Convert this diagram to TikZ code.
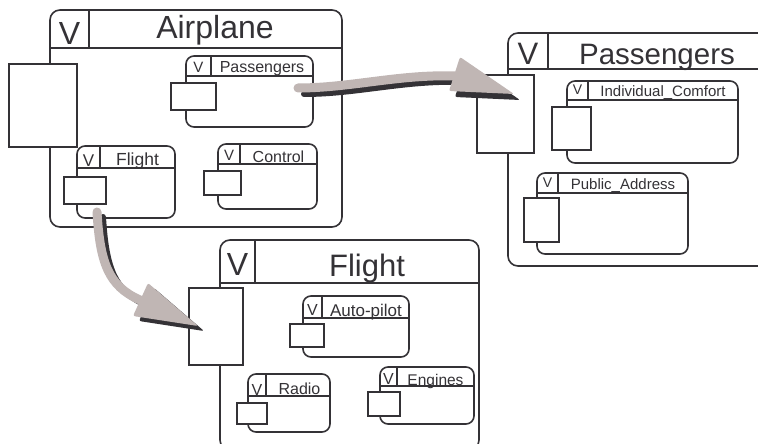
\documentclass[tikz,border=0pt]{standalone}
\usepackage{fontspec}
\setmainfont{Liberation Sans}
\definecolor{ink}{RGB}{52,50,54}
\definecolor{arrowgray}{RGB}{192,182,180}
\newcommand\pkg[8]{%
  \node[pkgbox, rounded corners=#8, minimum width={#4-#2}, minimum height={#5-#3}] (#1) at ({(#2+#4)/2},{(#3+#5)/2}) {};
  \draw[pkgline] (#2,#6) -- (#4,#6);
  \draw[pkgline] (#7,#3) -- (#7,#6);
}
\newcommand\port[5]{%
  \node[portbox, minimum width={#4-#2}, minimum height={#5-#3}] (#1) at ({(#2+#4)/2},{(#3+#5)/2}) {};
}
\newcommand\fs[1]{\fontsize{#1}{#1}\selectfont}
\begin{document}
\begin{tikzpicture}[x=1pt,y=-1pt,
  pkgbox/.style={draw=ink, line width=1.6pt, inner sep=0pt, outer sep=0pt, fill=white},
  pkgline/.style={draw=ink, line width=1.6pt},
  portbox/.style={draw=ink, line width=1.6pt, inner sep=0pt, outer sep=0pt, fill=white},
  lbl/.style={anchor=base, inner sep=0pt, text=ink},
  shadowline/.style={draw=ink, line width=6pt, line cap=round},
  arrowline/.style={draw=arrowgray, line width=9pt, line cap=round},
  shadowhead/.style={fill=ink, rounded corners=2pt},
  arrowhead/.style={fill=arrowgray, rounded corners=2pt}]
\useasboundingbox (0,0) rectangle (758,444);
\clip (0,0) rectangle (758,444);
% Airplane
\pkg{airplane}{50}{10}{342}{227}{48}{89}{10}
\node[lbl, font=\fs{32}] (airplaneV) at (69.5,45) {V};
\node[lbl, font=\fs{32}] (airplaneT) at (215,39) {Airplane};
\pkg{apPass}{186}{56}{313}{127}{76}{211}{8}
\node[lbl, font=\fs{15}] (apPassV) at (198.5,73) {V};
\node[lbl, font=\fs{16}] (apPassT) at (262,73) {Passengers};
\pkg{apFlight}{77}{146}{175}{218}{168}{100}{8}
\node[lbl, font=\fs{17}] (apFlightV) at (88.5,166) {V};
\node[lbl, font=\fs{17.5}] (apFlightT) at (137.5,165) {Flight};
\pkg{apControl}{218}{144}{317}{209}{164}{240}{8}
\node[lbl, font=\fs{15}] (apControlV) at (229,160) {V};
\node[lbl, font=\fs{16}] (apControlT) at (278.5,162) {Control};
\port{airplanePort}{9}{64}{77}{147}
\port{apPassPort}{171}{83}{216}{110}
\port{apFlightPort}{64}{177}{106}{204}
\port{apControlPort}{204}{171}{241}{195}
% Passengers
\pkg{passengers}{508}{33}{775}{266}{69}{548}{10}
\node[lbl, font=\fs{31}] (passengersV) at (528,65) {V};
\node[lbl, font=\fs{29.5}] (passengersT) at (657,65) {Passengers};
\pkg{pIC}{567}{81}{738}{163}{100}{588}{8}
\node[lbl, font=\fs{14}] (pICV) at (577.5,95) {V};
\node[lbl, font=\fs{15}] (pICT) at (663,96) {Individual\_Comfort};
\pkg{pPA}{537}{173}{688}{254}{193}{558}{8}
\node[lbl, font=\fs{14}] (pPAV) at (547.5,187) {V};
\node[lbl, font=\fs{15}] (pPAT) at (623,189) {Public\_Address};
\port{passengersPort}{477}{75}{534}{153}
\port{pICPort}{552}{107}{591}{150}
\port{pPAPort}{524}{198}{559}{242}
% Flight
\pkg{flight}{220}{240}{479}{450}{283}{255}{10}
\node[lbl, font=\fs{32}] (flightV) at (237.5,275) {V};
\node[lbl, font=\fs{31}] (flightT) at (367,276) {Flight};
\pkg{fAP}{303}{296}{409}{357}{318}{322}{8}
\node[lbl, font=\fs{16}] (fAPV) at (312.5,315) {V};
\node[lbl, font=\fs{17}] (fAPT) at (366,316) {Auto-pilot};
\pkg{fRadio}{248}{374}{330}{432}{396}{266}{8}
\node[lbl, font=\fs{16}] (fRadioV) at (257,395.5) {V};
\node[lbl, font=\fs{16}] (fRadioT) at (299.5,394) {Radio};
\pkg{fEngines}{380}{367}{474}{424}{386}{397}{8}
\node[lbl, font=\fs{16}] (fEnginesV) at (388.5,384) {V};
\node[lbl, font=\fs{15.5}] (fEnginesT) at (435.5,385) {Engines};
\port{flightPort}{189}{288}{243}{365}
\port{fAPPort}{290}{324}{324}{347}
\port{fRadioPort}{237}{403}{267}{424}
\port{fEnginesPort}{368}{392}{400}{416}
% arrows: shadow then grey
\begin{scope}[shift={(6,6)}]
  \path[shadowline] (298,88) .. controls (350,88) and (400,74) .. (455,76);
  \path[shadowhead] (460,57) -- (449,91) -- (514,94) -- cycle;
\end{scope}
\path[arrowline] (298,88) .. controls (350,88) and (400,74) .. (455,76);
\path[arrowhead] (460,57) -- (449,91) -- (514,94) -- cycle;
\begin{scope}[shift={(6,5)}]
  \path[shadowline] (97,212) .. controls (100,262) and (108,286) .. (140,300);
  \path[shadowhead] (148,283) -- (133,316) -- (198,326) -- cycle;
\end{scope}
\path[arrowline] (97,212) .. controls (100,262) and (108,286) .. (140,300);
\path[arrowhead] (148,283) -- (133,316) -- (198,326) -- cycle;
\end{tikzpicture}
\end{document}
